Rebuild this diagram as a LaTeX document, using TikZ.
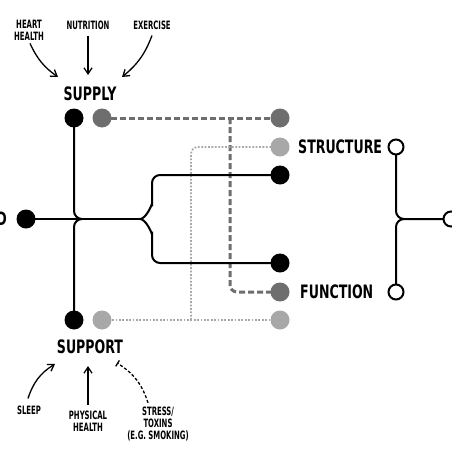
\documentclass[tikz,border=0pt]{standalone}
\usepackage{fontspec}
\newfontfamily\labfont[FakeStretch=0.68]{DejaVu Sans}
\newfontfamily\smfont[FakeStretch=0.6]{DejaVu Sans}
\usetikzlibrary{arrows.meta}
\definecolor{dkg}{HTML}{6E6E6E}
\definecolor{ltg}{HTML}{A8A8A8}
\tikzset{
  big/.style={font=\labfont\bfseries\fontsize{18.5}{18}\selectfont, inner sep=0pt},
  small/.style={font=\smfont\bfseries\fontsize{11.5}{12}\selectfont, align=center, inner sep=0pt},
  bdot/.style={circle, fill=black, minimum size=19pt, inner sep=0pt},
  ddot/.style={circle, fill=dkg, minimum size=19pt, inner sep=0pt},
  ldot/.style={circle, fill=ltg, minimum size=19pt, inner sep=0pt},
  odot/.style={circle, draw=black, line width=2pt, fill=white, minimum size=15pt, inner sep=0pt},
  wire/.style={line width=2pt, black},
  dashwire/.style={line width=3pt, dkg, dash pattern=on 6pt off 3pt, rounded corners=7pt},
  dotwire/.style={line width=1.8pt, ltg, dash pattern=on 1.8pt off 1.6pt, rounded corners=7pt},
  arr/.style={line width=1.3pt, -{Straight Barb[length=6pt, width=8pt]}},
}
\begin{document}
\begin{tikzpicture}[x=1pt, y=-1pt]
\clip (0,0) rectangle (452,452);
\fill[white] (0,0) rectangle (452,452);
% labels
\node[big] (supply) at (90,94) {SUPPLY};
\node[big] (support) at (90,347) {SUPPORT};
\node[big, anchor=west] (structure) at (298,147) {STRUCTURE};
\node[big, anchor=west] (function) at (300,292) {FUNCTION};
\node[big, anchor=east] (dlab) at (7,219) {D};
\node[small] (heart) at (29,30) {HEART\\HEALTH};
\node[small] (nutr) at (88,25) {NUTRITION};
\node[small] (exer) at (152,25) {EXERCISE};
\node[small] (sleep) at (29,410) {SLEEP};
\node[small] (phys) at (88,421) {PHYSICAL\\HEALTH};
\node[small] (stress) at (158,424) {STRESS/\\TOXINS\\(E.G. SMOKING)};
% coordinates
\coordinate (hubL) at (74,219);
\coordinate (hubM) at (148,219);
\coordinate (hubR) at (396,219);
% wires (drawn before dots)
\draw[dashwire] (102,118) -- (280,118);
\draw[dashwire] (230,118) -- (230,292) -- (280,292);
\draw[dotwire] (102,320) -- (280,320);
\draw[dotwire] (191,320) -- (191,147) -- (280,147);
\draw[wire] (26,219) -- (140,219);
\draw[wire] (74,118) -- (74,211) to[out=-90,in=180] (82,219);
\draw[wire] (74,320) -- (74,227) to[out=90,in=180] (82,219);
\draw[wire, rounded corners=8pt] (140,219) to[out=0,in=90] (152,211) -- (152,175) -- (280,175);
\draw[wire, rounded corners=8pt] (140,219) to[out=0,in=-90] (152,227) -- (152,263) -- (280,263);
\draw[wire] (396,147) -- (396,211) to[out=-90,in=180] (404,219) -- (451,219);
\draw[wire] (396,292) -- (396,227) to[out=90,in=180] (404,219);
% dots
\node[bdot] (sb) at (74,118) {};
\node[ddot] (sg) at (102,118) {};
\node[bdot] (pb) at (74,320) {};
\node[ldot] (pg) at (102,320) {};
\node[bdot] (lb) at (26,219) {};
\node[ddot] (r1) at (280,118) {};
\node[ldot] (r2) at (280,147) {};
\node[bdot] (r3) at (280,175) {};
\node[bdot] (r4) at (280,263) {};
\node[ddot] (r5) at (280,292) {};
\node[ldot] (r6) at (280,320) {};
\node[odot] (os) at (396,147) {};
\node[odot] (of) at (396,292) {};
\node[odot] (oo) at (451,219) {};
% arrows
\draw[arr] (heart.south) ++(1,3) to[bend right=15] (58,77);
\draw[arr] (nutr.south) ++(0,6) -- (88,75);
\draw[arr] (exer.south) ++(0,6) to[bend left=15] (122,77);
\draw[arr] (sleep.north) ++(-1,-7) to[bend left=20] (55,364);
\draw[arr] (phys.north) ++(0,-6) -- (88,366);
\draw[line width=1.3pt, dash pattern=on 3pt off 2pt, -{Bar[width=7pt, line width=1.3pt]}] (stress.north) ++(-10,-4) to[bend right=20] (117,363);
\end{tikzpicture}
\end{document}
